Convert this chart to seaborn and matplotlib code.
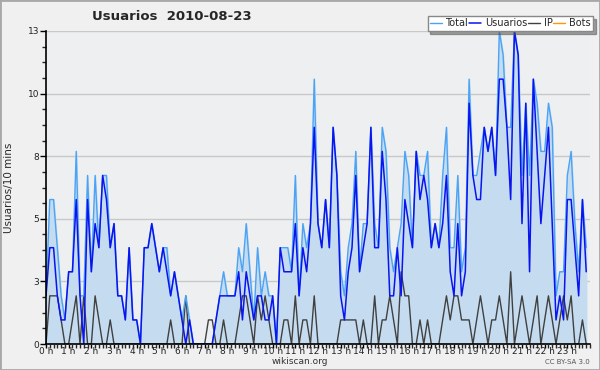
"""Usuarios por 10 minutos - wikiscan 2010-08-23."""
import numpy as np
import pandas as pd
import matplotlib
matplotlib.use('Agg')
import matplotlib.pyplot as plt
from matplotlib.ticker import FixedLocator, MultipleLocator, FormatStrFormatter
import seaborn as sns

# one value per 10 minutes, 144 points
total = [2, 6, 6, 4, 2, 1, 3, 3, 8, 2, 2, 7, 3, 7, 4, 7, 7, 4, 5, 2,
         2, 1, 4, 1, 1, 0, 4, 4, 5, 4, 3, 4, 4, 2, 3, 2, 1, 2, 1, 0,
         0, 0, 0, 0, 0, 1, 2, 3, 2, 2, 2, 4, 3, 5, 3, 1, 4, 2, 3, 2,
         2, 0, 4, 4, 4, 3, 7, 2, 5, 4, 5, 11, 5, 4, 6, 4, 9, 7, 3, 2,
         4, 5, 8, 3, 5, 5, 9, 5, 4, 9, 8, 4, 3, 4, 5, 8, 7, 4, 8, 7,
         7, 8, 4, 5, 4, 7, 9, 4, 4, 7, 3, 4, 11, 7, 7, 8, 9, 8, 9, 7,
         13, 12, 9, 9, 13, 12, 7, 10, 7, 11, 10, 8, 8, 10, 9, 2, 3, 3, 7, 8,
         5, 3, 6, 4]
usuarios = [2, 4, 4, 2, 1, 1, 3, 3, 6, 2, 0, 6, 3, 5, 4, 7, 6, 4, 5, 2,
            2, 1, 4, 1, 1, 0, 4, 4, 5, 4, 3, 4, 3, 2, 3, 2, 1, 0, 1, 0,
            0, 0, 0, 0, 0, 1, 2, 2, 2, 2, 2, 3, 1, 3, 2, 1, 2, 2, 1, 1,
            2, 0, 4, 3, 3, 3, 5, 2, 4, 3, 5, 9, 5, 4, 6, 4, 9, 7, 2, 1,
            3, 4, 7, 3, 4, 5, 9, 4, 4, 8, 6, 2, 2, 4, 2, 6, 5, 4, 8, 6,
            7, 6, 4, 5, 4, 5, 7, 3, 2, 5, 2, 3, 10, 7, 6, 6, 9, 8, 9, 7,
            11, 11, 9, 6, 13, 12, 5, 10, 3, 11, 8, 5, 7, 9, 5, 1, 2, 1, 6, 6,
            4, 2, 6, 3]
ip = [0, 2, 2, 2, 1, 0, 0, 1, 2, 0, 2, 0, 0, 2, 1, 0, 0, 1, 0, 0,
      0, 0, 0, 0, 0, 0, 0, 0, 0, 0, 0, 0, 0, 1, 0, 0, 0, 2, 0, 0,
      0, 0, 0, 1, 1, 0, 0, 1, 0, 0, 0, 1, 2, 2, 1, 0, 2, 1, 2, 1,
      0, 0, 0, 1, 1, 0, 2, 0, 1, 1, 0, 2, 0, 0, 0, 0, 0, 0, 1, 1,
      1, 1, 1, 0, 1, 0, 0, 2, 0, 1, 1, 2, 1, 0, 3, 2, 2, 0, 0, 1,
      0, 1, 0, 0, 0, 1, 2, 1, 2, 2, 1, 1, 1, 0, 1, 2, 1, 0, 1, 1,
      2, 1, 0, 3, 0, 1, 2, 1, 0, 1, 2, 0, 1, 2, 1, 0, 1, 2, 1, 2,
      0, 0, 1, 0]
bots = [0] * 144

hour_labels = [f'{h} h' for h in range(24)]

df = pd.DataFrame({
    'hora': np.arange(144) / 6,
    'Total': total,
    'Usuarios': usuarios,
    'IP': ip,
    'Bots': bots,
})

sns.set_style("white")
plt.rcParams['font.family'] = ['DejaVu Sans']

bg = '#eeeff1'
fig = plt.figure(figsize=(6, 3.7), dpi=100, facecolor='#f0f0f0')
fig.patches.append(plt.Rectangle((0, 0), 1, 1, transform=fig.transFigure,
                                 fill=False, edgecolor='#a8a8a8', linewidth=2))
ax = fig.add_axes([46 / 600, 26 / 370, 544 / 600, 313 / 370])
ax.set_facecolor(bg)

ax.fill_between(df['hora'], df['Total'], color='#c5dcf0', zorder=1)
sns.lineplot(data=df, x='hora', y='Bots', ax=ax, color='#ff9900',
             linewidth=1, label='Bots', zorder=2)
sns.lineplot(data=df, x='hora', y='IP', ax=ax, color='#404040',
             linewidth=1, label='IP', zorder=3)
sns.lineplot(data=df, x='hora', y='Total', ax=ax, color='#4aa3f5',
             linewidth=1, label='Total', zorder=4)
sns.lineplot(data=df, x='hora', y='Usuarios', ax=ax, color='#0a14f0',
             linewidth=1.1, label='Usuarios', zorder=5)

ax.set_xlim(0, 24)
ax.set_ylim(0, 13)

ax.yaxis.set_major_locator(FixedLocator(np.linspace(0, 13, 6)))
ax.yaxis.set_major_formatter(FormatStrFormatter('%.0f'))
ax.yaxis.set_minor_locator(MultipleLocator(0.65))
ax.set_xticks(range(24))
ax.set_xticklabels(hour_labels)
ax.xaxis.set_minor_locator(MultipleLocator(1 / 6))
ax.grid(axis='y', which='major', color='#c8c8c8', linewidth=1)
ax.set_axisbelow(True)

ax.tick_params(axis='both', which='major', labelsize=6.5, colors='black',
               labelcolor='#222222', length=4, width=1, pad=1,
               direction='out', left=True, bottom=True)
ax.tick_params(axis='x', which='major', length=3, pad=-0.5)
ax.tick_params(axis='both', which='minor', length=3, width=1,
               direction='out', left=True, bottom=True)
for side in ['top', 'right']:
    ax.spines[side].set_visible(False)
for side in ['left', 'bottom']:
    ax.spines[side].set_color('black')
    ax.spines[side].set_linewidth(1.2)
    ax.spines[side].set_zorder(6)

ax.set_xlabel('')
ax.set_ylabel('Usuarios/10 mins', fontsize=7.5, labelpad=10)
ax.get_legend().remove()

fig.text(92 / 600, 1 - 17 / 370, 'Usuarios  2010-08-23', fontsize=9.5,
         fontweight='bold', va='center', ha='left')
fig.text(0.5, 1 - 362 / 370, 'wikiscan.org', fontsize=6.5, ha='center',
         va='center', color='#333333')
fig.text(590 / 600, 1 - 362 / 370, 'CC BY-SA 3.0', fontsize=5, ha='right',
         va='center', color='#555555')

handles, labels = ax.get_legend_handles_labels()
order = ['Total', 'Usuarios', 'IP', 'Bots']
hmap = dict(zip(labels, handles))
leg = fig.legend([hmap[k] for k in order], order, loc='upper right',
                 bbox_to_anchor=(593 / 600, 1 - 16 / 370), ncol=4,
                 fontsize=7, frameon=True, fancybox=False, shadow=True,
                 handlelength=1.2, handletextpad=0.4, columnspacing=0.1,
                 borderpad=0.25, borderaxespad=0)
leg.get_frame().set_edgecolor('#888888')
leg.get_frame().set_facecolor('white')
leg.get_frame().set_linewidth(1)

fig.savefig('out.png', dpi=100, facecolor=fig.get_facecolor())
